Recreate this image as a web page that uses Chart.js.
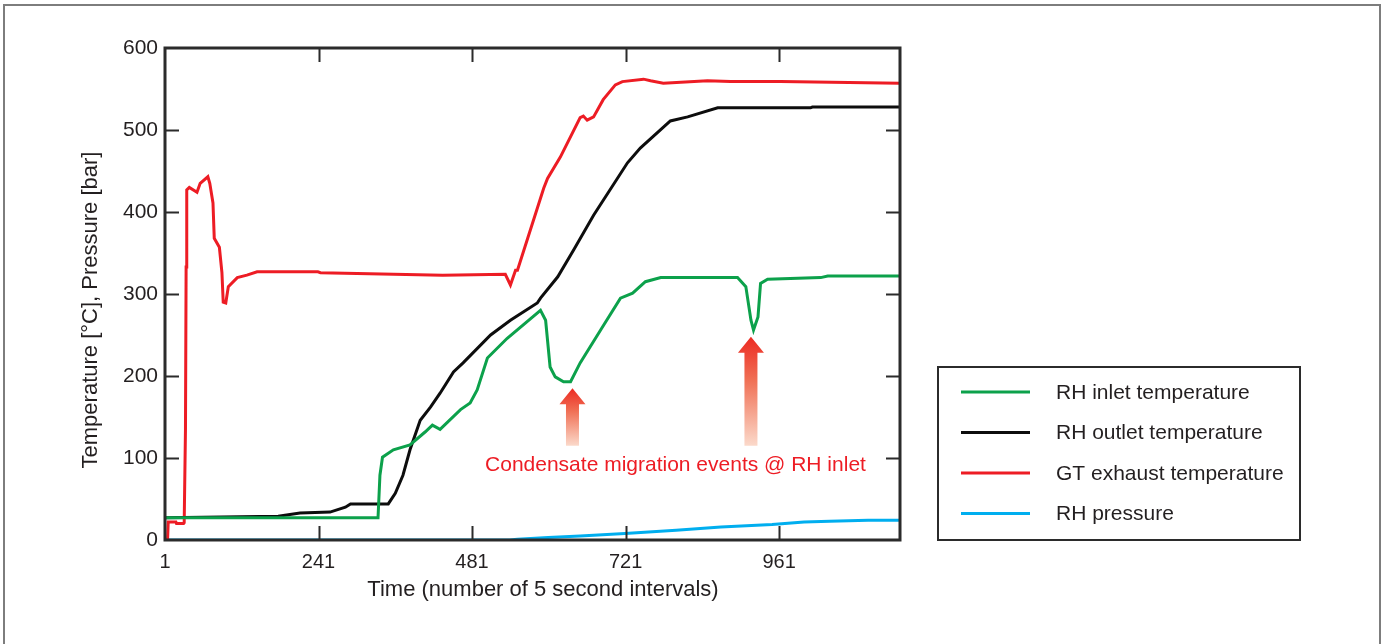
<!DOCTYPE html>
<html>
<head>
<meta charset="utf-8">
<script src="https://cdn.jsdelivr.net/npm/chart.js@4.4.0/dist/chart.umd.min.js"></script>
<style>
    html, body { margin: 0; padding: 0; background: #fff; }
    #frame {
        position: absolute; left: 3px; top: 4px; width: 1374px; height: 700px;
        border: 2px solid #7d7d7d; border-bottom: none;
    }
    #chart { position: absolute; left: 0; top: 0; }
</style>
</head>
<body>
<div id="frame"></div>
<canvas id="chart" width="1384" height="644"></canvas>
<script>
// Time axis ticks (number of 5 second intervals)
const timeTicks = [1, 241, 481, 721, 961];
const xTitle = 'Time (number of 5 second intervals)';
const yTitle = 'Temperature [°C], Pressure [bar]';

// RH inlet temperature
const inletX = [1, 334, 337, 341, 358, 384, 408, 419, 431, 463, 478, 489, 505, 536, 588, 596, 603, 611, 624, 635,
    650, 682, 713, 732, 752, 776, 896, 909, 917, 921, 928, 932, 943, 1026, 1037, 1150];
const inletY = [27, 27, 79, 101, 110, 116, 132, 140, 135, 159, 167, 183, 222, 246, 280, 268, 211, 199, 193, 193,
    216, 256, 295, 301, 315, 320, 320, 309, 268, 256, 272, 313, 318, 320, 322, 322];

// RH outlet temperature
const outletX = [1, 178, 212, 259, 283, 291, 350, 361, 373, 384, 400, 416, 431, 452, 467, 510, 541, 583, 588, 615,
    640, 671, 724, 744, 791, 818, 865, 1010, 1013, 1150];
const outletY = [27, 29, 33, 34, 40, 44, 44, 57, 79, 110, 146, 162, 179, 205, 216, 250, 268, 289, 295, 321,
    354, 396, 460, 478, 511, 516, 527, 527, 528, 528];

// GT exhaust temperature
const exhaustX = [1, 5, 6, 18, 19, 30, 31, 33, 34, 35, 39, 51, 56, 68, 71, 76, 78, 86, 90, 92,
    96, 100, 114, 129, 145, 240, 244, 435, 533, 541, 549, 552, 593, 599, 619, 650, 655, 661, 671, 686,
    705, 716, 749, 760, 780, 849, 885, 963, 1150];
const exhaustY = [0, 0, 22, 22, 20, 20, 21, 135, 333, 427, 430, 424, 435, 443, 435, 411, 368, 357, 326, 290,
    289, 309, 320, 323, 327, 327, 326, 323, 324, 311, 329, 329, 429, 441, 467, 515, 517, 512, 516, 537,
    555, 559, 562, 560, 557, 560, 559, 559, 557];

// RH pressure
const pressureX = [1, 540, 552, 600, 650, 720, 800, 870, 950, 1000, 1040, 1100, 1150];
const pressureY = [0, 0, 1, 3, 5, 8, 12, 16, 19, 22, 23, 24, 24];

// Condensate migration arrows (time, tip value, tail value)
const arrowX = [638, 917];
const arrowTipY = [185, 248];
const arrowTailY = [115, 115];
const noteText = 'Condensate migration events @ RH inlet';
const notePos = [799, 91];

const FONT = '"Liberation Sans", Arial, Helvetica, sans-serif';
const TEXT = '#231f20';

function pts(xs, ys) {
    return xs.map((x, i) => ({ x: x, y: ys[i] }));
}

function lineSet(label, xs, ys, color) {
    return {
        label: label,
        data: pts(xs, ys),
        borderColor: color,
        backgroundColor: color,
        borderWidth: 3,
        pointRadius: 0,
        tension: 0,
        fill: false
    };
}

// frame with inward ticks on all four sides
const framePlugin = {
    id: 'frame',
    afterDatasetsDraw(chart) {
        const { ctx, chartArea: a, scales } = chart;
        ctx.save();
        ctx.strokeStyle = '#2b2b2b';
        ctx.lineWidth = 2;
        const len = 14;
        scales.x.ticks.forEach(t => {
            if (t.value <= scales.x.min || t.value >= scales.x.max) return;
            const px = Math.round(scales.x.getPixelForValue(t.value)) + 0.5;
            ctx.beginPath();
            ctx.moveTo(px, a.bottom); ctx.lineTo(px, a.bottom - len);
            ctx.moveTo(px, a.top); ctx.lineTo(px, a.top + len);
            ctx.stroke();
        });
        scales.y.ticks.forEach(t => {
            if (t.value <= scales.y.min || t.value >= scales.y.max) return;
            const py = Math.round(scales.y.getPixelForValue(t.value)) + 0.5;
            ctx.beginPath();
            ctx.moveTo(a.left, py); ctx.lineTo(a.left + len, py);
            ctx.moveTo(a.right, py); ctx.lineTo(a.right - len, py);
            ctx.stroke();
        });
        ctx.lineWidth = 3;
        ctx.strokeRect(a.left, a.top, a.right - a.left, a.bottom - a.top);
        ctx.restore();
    }
};

// red gradient arrows and the note
const notePlugin = {
    id: 'note',
    afterDatasetsDraw(chart) {
        const { ctx, scales: { x, y } } = chart;
        ctx.save();
        arrowX.forEach((v, i) => {
            const cx = x.getPixelForValue(v);
            const tip = y.getPixelForValue(arrowTipY[i]);
            const tail = y.getPixelForValue(arrowTailY[i]);
            const g = ctx.createLinearGradient(0, tip, 0, tail);
            g.addColorStop(0, '#ec2a22');
            g.addColorStop(0.4, '#f07055');
            g.addColorStop(1, '#fbd9ca');
            ctx.fillStyle = g;
            ctx.beginPath();
            ctx.moveTo(cx, tip);
            ctx.lineTo(cx + 13, tip + 16);
            ctx.lineTo(cx + 6.5, tip + 16);
            ctx.lineTo(cx + 6.5, tail);
            ctx.lineTo(cx - 6.5, tail);
            ctx.lineTo(cx - 6.5, tip + 16);
            ctx.lineTo(cx - 13, tip + 16);
            ctx.closePath();
            ctx.fill();
        });
        ctx.fillStyle = '#ed1c24';
        ctx.font = '21px ' + FONT;
        ctx.textAlign = 'center';
        ctx.textBaseline = 'middle';
        ctx.fillText(noteText, x.getPixelForValue(notePos[0]), y.getPixelForValue(notePos[1]));
        ctx.restore();
    }
};

// axis titles (slightly off-centre in the original, so placed by hand)
const titlePlugin = {
    id: 'axisTitles',
    afterDraw(chart) {
        const { ctx } = chart;
        ctx.save();
        ctx.fillStyle = TEXT;
        ctx.font = '22px ' + FONT;
        ctx.textAlign = 'center';
        ctx.textBaseline = 'middle';
        ctx.fillText(xTitle, 543, 590);
        ctx.translate(91, 310);
        ctx.rotate(-Math.PI / 2);
        ctx.fillText(yTitle, 0, 0);
        ctx.restore();
    }
};

// boxed legend at the lower right
const legendPlugin = {
    id: 'boxLegend',
    afterDraw(chart) {
        const { ctx } = chart;
        const box = { left: 938, top: 367, right: 1300, bottom: 540 };
        ctx.save();
        ctx.strokeStyle = '#2b2b2b';
        ctx.lineWidth = 2;
        ctx.strokeRect(box.left, box.top, box.right - box.left, box.bottom - box.top);
        ctx.font = '21px ' + FONT;
        ctx.textBaseline = 'middle';
        ctx.textAlign = 'left';
        chart.data.datasets.forEach((ds, i) => {
            const yy = 392 + i * 40.5;
            ctx.strokeStyle = ds.borderColor;
            ctx.lineWidth = 3;
            ctx.beginPath();
            ctx.moveTo(961, yy);
            ctx.lineTo(1030, yy);
            ctx.stroke();
            ctx.fillStyle = TEXT;
            ctx.fillText(ds.label, 1056, yy + 1);
        });
        ctx.restore();
    }
};

const ctx = document.getElementById('chart').getContext('2d');
new Chart(ctx, {
    type: 'line',
    data: {
        datasets: [
            lineSet('RH inlet temperature', inletX, inletY, '#0ca14b'),
            lineSet('RH outlet temperature', outletX, outletY, '#0d0d0d'),
            lineSet('GT exhaust temperature', exhaustX, exhaustY, '#ed1c24'),
            lineSet('RH pressure', pressureX, pressureY, '#00aeef')
        ]
    },
    options: {
        responsive: false,
        animation: false,
        layout: { padding: { left: 0, top: 48, right: 484, bottom: 0 } },
        plugins: {
            legend: { display: false },
            tooltip: { enabled: false }
        },
        scales: {
            x: {
                type: 'linear',
                min: 1,
                max: 1150,
                grid: { display: false, drawTicks: false },
                border: { display: false },
                afterBuildTicks: s => { s.ticks = timeTicks.map(v => ({ value: v })); },
                afterFit: s => { s.height = 104; },
                ticks: {
                    autoSkip: false,
                    maxRotation: 0,
                    padding: 10,
                    color: TEXT,
                    font: { family: FONT, size: 20 }
                }
            },
            y: {
                min: 0,
                max: 600,
                grid: { display: false, drawTicks: false },
                border: { display: false },
                afterFit: s => { s.width = 165; },
                ticks: {
                    stepSize: 100,
                    padding: 7,
                    color: TEXT,
                    font: { family: FONT, size: 21 }
                }
            }
        }
    },
    plugins: [framePlugin, notePlugin, titlePlugin, legendPlugin]
});
</script>
</body>
</html>
